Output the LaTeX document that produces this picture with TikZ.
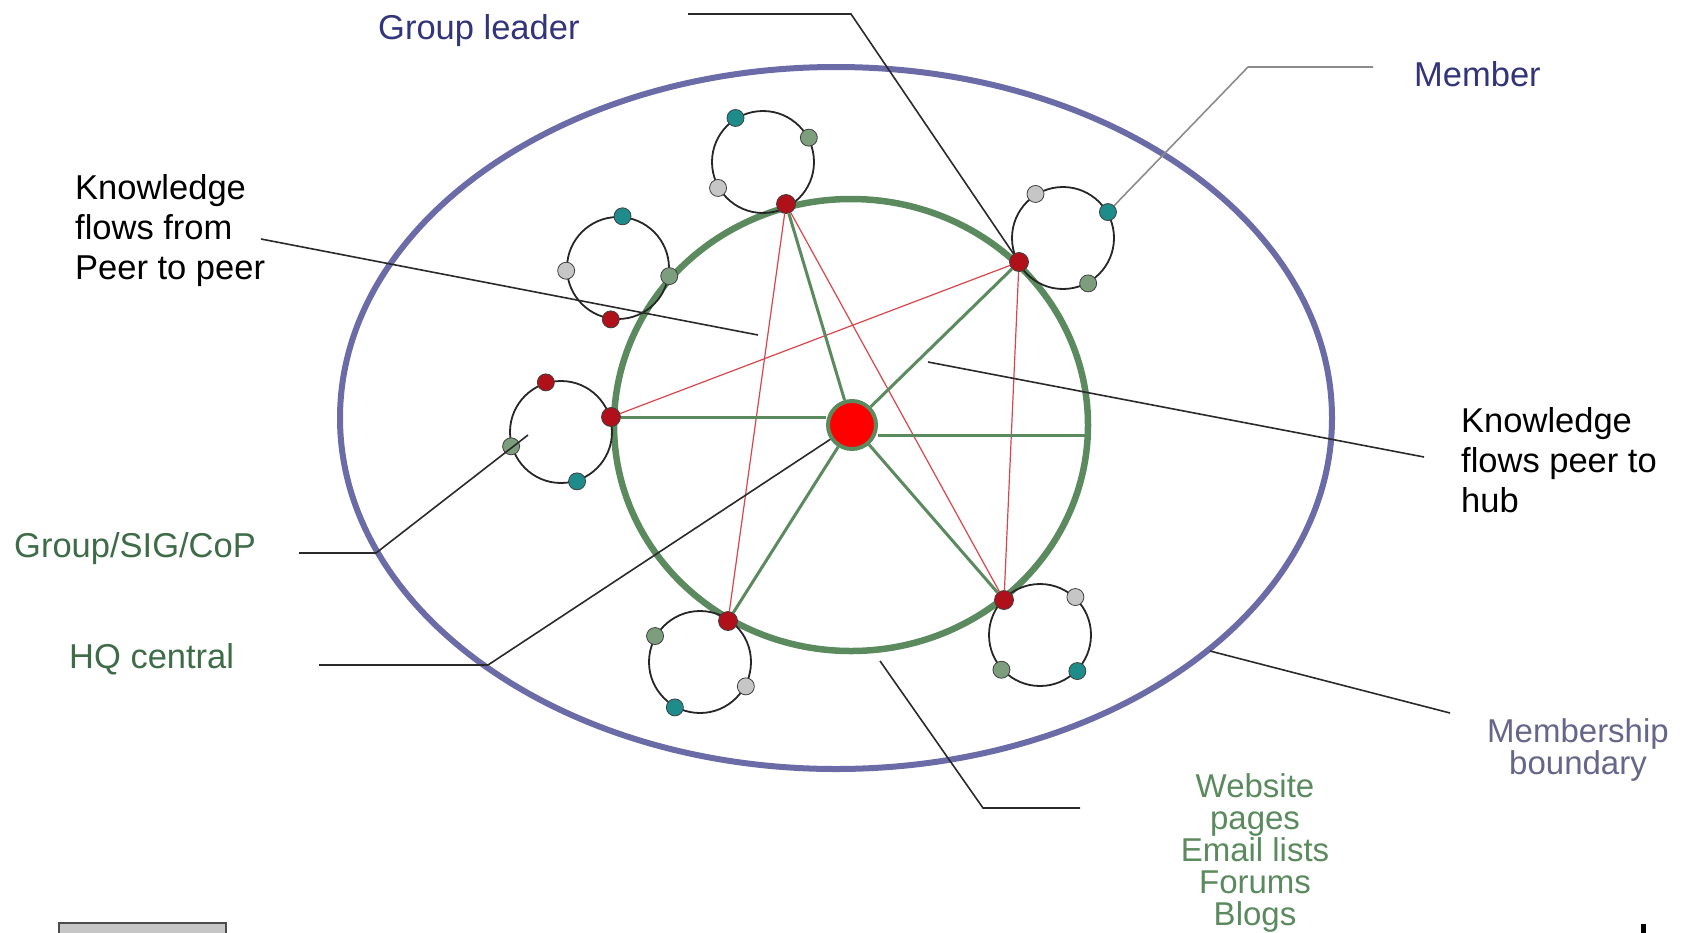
\documentclass[tikz,border=0pt]{standalone}
\usepackage{fontspec}
\setmainfont{Liberation Sans}
\usepackage{xcolor}
\definecolor{ring-blue}{HTML}{6B6BA8}
\definecolor{hub-green}{HTML}{5B8A5F}
\definecolor{peer-red}{HTML}{B0101A}
\definecolor{flow-red}{HTML}{D9454A}
\definecolor{mem-teal}{HTML}{1F8C8C}
\definecolor{mem-sage}{HTML}{7D9E7D}
\definecolor{mem-grey}{HTML}{C6C6C6}
\definecolor{label-blue}{HTML}{34347A}
\definecolor{label-green}{HTML}{3E6B48}
\definecolor{label-slate}{HTML}{66668A}
\definecolor{web-green}{HTML}{5A8A5E}
\definecolor{leader-grey}{HTML}{2A2A2A}
\lineskiplimit=-100pt

\begin{document}
\begin{tikzpicture}[x=1pt, y=-1pt,
        every node/.style={font=\fontsize{34.5}{40}\selectfont, inner sep=0pt},
        group/.style={circle, draw=black!85, line width=1.8pt, minimum size=102pt},
        member/.style={circle, draw=black!75, line width=0.8pt, minimum size=17pt},
        peer/.style={member, fill=peer-red, minimum size=19pt},
        leader/.style={draw=leader-grey, line width=1.6pt},
        hubline/.style={draw=hub-green, line width=3pt},
        flowline/.style={draw=flow-red, line width=1.2pt}]
      \useasboundingbox (0,0) rectangle (1694,932);
      % membership boundary and website ring
      \draw[ring-blue, line width=6pt] (836,418) ellipse [x radius=496, y radius=351];
      \draw[hub-green, line width=6.5pt] (851,425) ellipse [x radius=237, y radius=226];
      \coordinate (ringE) at (1086,435);

      % groups
      \node[group] (gTop) at (763,162) {};
      \node[group] (gUL) at (618,268) {};
      \node[group] (gUR) at (1063,238) {};
      \node[group] (gL) at (561,432) {};
      \node[group] (gLL) at (700,662) {};
      \node[group] (gLR) at (1040,635) {};

      % members
      \node[member, fill=mem-teal] (mTop-teal) at (gTop.122) {};
      \node[member, fill=mem-sage] (mTop-sage) at (gTop.28) {};
      \node[member, fill=mem-grey] (mTop-grey) at (gTop.210) {};
      \node[member, fill=mem-teal] (mUL-teal) at (gUL.85) {};
      \node[member, fill=mem-grey] (mUL-grey) at (gUL.183) {};
      \node[member, fill=mem-sage] (mUL-sage) at (gUL.-9) {};
      \node[member, fill=peer-red] (mUL-red) at (gUL.262) {};
      \node[member, fill=mem-grey] (mUR-grey) at (gUR.122) {};
      \node[member, fill=mem-teal] (mUR-teal) at (gUR.30) {};
      \node[member, fill=mem-sage] (mUR-sage) at (gUR.-61) {};
      \node[member, fill=peer-red] (mL-red) at (gL.107) {};
      \node[member, fill=mem-teal] (mL-teal) at (gL.-72) {};
      \node[member, fill=mem-sage] (mL-sage) at (gL.196) {};
      \node[member, fill=mem-sage] (mLL-sage) at (gLL.150) {};
      \node[member, fill=mem-grey] (mLL-grey) at (gLL.-28) {};
      \node[member, fill=mem-teal] (mLL-teal) at (gLL.241) {};
      \node[member, fill=mem-grey] (mLR-grey) at (gLR.47) {};
      \node[member, fill=mem-sage] (mLR-sage) at (gLR.222) {};
      \node[member, fill=mem-teal] (mLR-teal) at (gLR.-44) {};

      % peers on the ring and the hub
      \node[peer] (pTop) at (786,204) {};
      \node[peer] (pUR) at (1019,262) {};
      \node[peer] (pL) at (611,417) {};
      \node[peer] (pLL) at (728,621) {};
      \node[peer] (pLR) at (1004,600) {};
      \node[circle, fill=red, draw=hub-green, line width=4pt, minimum size=48pt] (hub) at (852,425) {};

      % peer to peer
      \draw[flowline] (pTop) -- (pLL);
      \draw[flowline] (pTop) -- (pLR);
      \draw[flowline] (pUR) -- (pL);
      \draw[flowline] (pUR) -- (pLR);
      % peer to hub
      \draw[hubline] (hub) -- (pTop);
      \draw[hubline] (hub) -- (pUR);
      \draw[hubline] (hub) -- (pLL);
      \draw[hubline] (hub) -- (pLR);
      \draw[hubline] (pL) -- (pL -| hub.west);
      \draw[hubline] (hub.east |- ringE) -- (ringE);

      % labels
      \node[anchor=base west, text=label-blue] (lblLeader) at (378,39) {Group leader};
      \node[anchor=base west, text=label-blue] (lblMember) at (1414,86) {Member};
      \node[anchor=north west, align=left] (lblPeer) at (75,174) {Knowledge\\flows from\\Peer to peer};
      \node[anchor=north west, align=left] (lblHub) at (1461,407) {Knowledge\\flows peer to\\hub};
      \node[anchor=base west, text=label-green] (lblGroup) at (14,557) {Group/SIG/CoP};
      \node[anchor=base west, text=label-green] (lblHQ) at (69,668) {HQ central};
      \node[anchor=north, align=center, text=label-slate,
            font=\fontsize{33}{32}\selectfont]
            (lblBoundary) at (1578,718) {Membership\\boundary};
      \node[anchor=north, align=center, text=web-green,
            font=\fontsize{33}{32}\selectfont]
            (lblWeb) at (1255,773) {Website\\pages\\Email lists\\Forums\\Blogs};

      % leader lines
      \draw[leader] (688,14) -- (851,14) -- (pUR);
      \draw[leader, draw=black!45] (1373,67) -- (1248,67) -- (mUR-teal);
      \draw[leader] (261,239) -- (758,335);
      \draw[leader] (1424,457) -- (928,362);
      \draw[leader] (299,553) -- (376,553) -- (528,435);
      \draw[leader] (319,665) -- (488,665) -- (hub);
      \draw[leader] (1450,713) -- (1210,651);
      \draw[leader] (1080,808) -- (983,808) -- (880,661);

      % cut-off bits at the lower edge
      \filldraw[fill=gray!45, draw=black!70, line width=1.5pt] (59,923) rectangle (226,950);
      \fill[black] (1641,924) rectangle (1646,940);
    \end{tikzpicture}
\end{document}
